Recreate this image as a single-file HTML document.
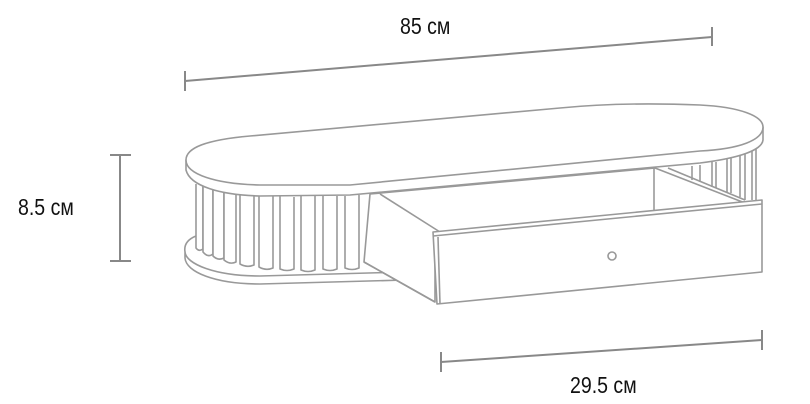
<!DOCTYPE html>
<html><head><meta charset="utf-8"><style>
html,body{margin:0;padding:0;background:#fff}
svg{display:block}
text{font-family:"Liberation Sans",sans-serif;font-size:23px;fill:#111}
</style></head><body>
<svg width="810" height="404" viewBox="0 0 810 404" xmlns="http://www.w3.org/2000/svg">
<g stroke="#888" stroke-width="2" fill="none">
<line x1="185" y1="81" x2="712" y2="37"/>
<line x1="185" y1="71" x2="185" y2="91"/>
<line x1="712" y1="27" x2="712" y2="46"/>
<line x1="120" y1="155" x2="120" y2="261"/>
<line x1="110" y1="155" x2="131" y2="155"/>
<line x1="110" y1="261" x2="131" y2="261"/>
<line x1="441" y1="362" x2="762" y2="340"/>
<line x1="441" y1="352" x2="441" y2="372"/>
<line x1="762" y1="330" x2="762" y2="350"/>
</g>
<g stroke="#999" stroke-width="1.6" fill="#fff" stroke-linejoin="round">
<path d="M196,236 C186,240 184,246 185,252 L185,258 C186,272 215,284 260,284 L405,280 L405,272 L260,276 C215,276 186,264 185,252"/>
<g>
<path d="M196,184 L196,248 Q199,252 203,249 L203,186"/>
<path d="M203,186 L203,252 Q208,258 213,254 L213,188"/>
<path d="M213,188 L213,256 Q218,261 224,258 L224,190"/>
<path d="M224,190 L224,260 Q230,265 236,262 L236,192"/>
<path d="M240,193 L240,264 Q247,268 254,265 L254,194"/>
<path d="M259,195 L259,267 Q266,271 273,268 L273,196"/>
<path d="M280,196 L280,269 Q287,272 294,269 L294,197"/>
<path d="M301,196 L301,270 Q308,273 315,270 L315,196"/>
<path d="M323,196 L323,269 Q330,272 337,269 L337,196"/>
<path d="M345,196 L345,268 Q352,271 359,268 L359,195"/>
</g>
<line x1="692" y1="166" x2="692" y2="180"/><line x1="700" y1="165" x2="700" y2="182"/>
<line x1="712" y1="162" x2="712" y2="187"/><line x1="716" y1="162" x2="716" y2="188"/>
<line x1="727" y1="158" x2="727" y2="192"/><line x1="731" y1="157" x2="731" y2="193"/>
<line x1="740" y1="154" x2="740" y2="197"/><line x1="745" y1="153" x2="745" y2="200"/>
<line x1="752" y1="151" x2="752" y2="200"/><line x1="756" y1="149" x2="756" y2="200"/>
<path d="M370,194 L655,168 L745,203 L435,236 L435,302 L364,262 Z"/>
<line x1="654" y1="168" x2="654" y2="212"/>
<path d="M380,194 L440,232"/>
<path d="M668,168 L745,200"/>
<line x1="364" y1="262" x2="435" y2="302"/>
<path d="M433,232 L762,200 L762,272 L437,304 Z"/>
<line x1="433" y1="236" x2="762" y2="204"/>
<line x1="438" y1="237" x2="440" y2="304"/>
<circle cx="612" cy="256" r="4"/>
<!-- top band -->
<path d="M186,160 L186,170 C190,186 220,195 260,196 L350,195 L700,163 C740,158 762,150 763,140 L763,127 Z"/>
<!-- top surface -->
<path d="M186,160 C186,148 205,140 250,136 L560,108 C600,104 650,103 700,105 C740,107 763,116 763,127 C763,140 740,149 700,151 L350,185 L260,185 C215,184 186,174 186,160 Z"/>
</g>
<text x="400" y="34" transform="translate(400 0) scale(0.85 1) translate(-400 0)">85 см</text>
<text x="18" y="215" transform="translate(18 0) scale(0.85 1) translate(-18 0)">8.5 см</text>
<text x="570" y="393" transform="translate(570 0) scale(0.85 1) translate(-570 0)">29.5 см</text>
</svg>
</body></html>
